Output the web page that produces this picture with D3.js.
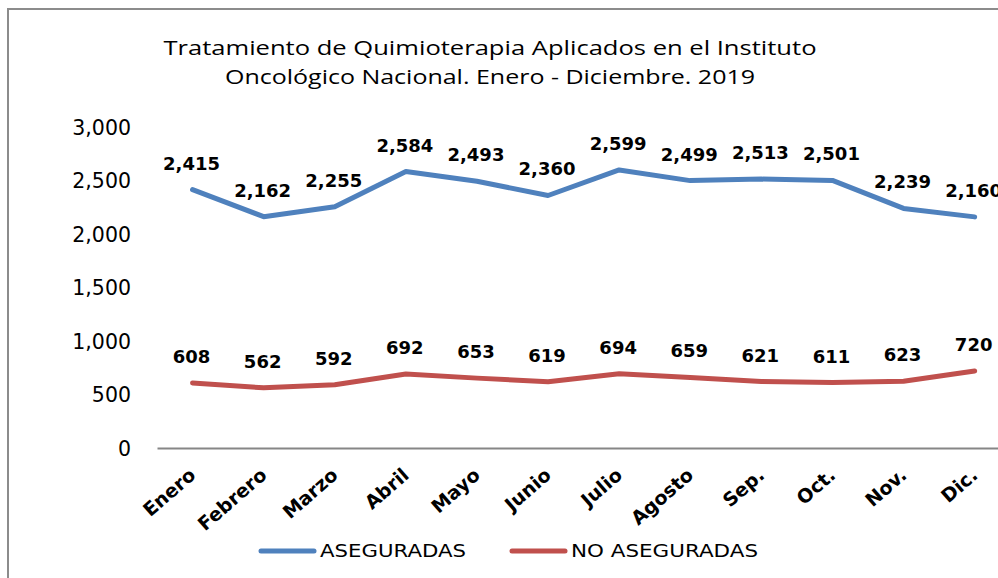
<!DOCTYPE html>
<html>
<head>
<meta charset="utf-8">
<script src="https://cdn.jsdelivr.net/npm/d3@7"></script>
<style>
  body { margin: 0; background: #fff; }
</style>
</head>
<body>
<div id="chart"></div>
<script>
// Chart data
var meses = ["Enero", "Febrero", "Marzo", "Abril", "Mayo", "Junio",
             "Julio", "Agosto", "Sep.", "Oct.", "Nov.", "Dic."];
var aseguradas = [2415, 2162, 2255, 2584, 2493, 2360, 2599, 2499, 2513, 2501, 2239, 2160];
var noAseguradas = [608, 562, 592, 692, 653, 619, 694, 659, 621, 611, 623, 720];
var yTicks = [0, 500, 1000, 1500, 2000, 2500, 3000];
var tituloLineas = ["Tratamiento de Quimioterapia Aplicados en el Instituto",
                    "Oncológico Nacional. Enero - Diciembre. 2019"];

var width = 998;
var height = 578;

var svg = d3.select("#chart")
            .append("svg")
            .attr("width", width)
            .attr("height", height);

// Outer chart border (runs past the right and bottom edges)
svg.append("rect")
   .attr("x", 8)
   .attr("y", 9)
   .attr("width", 1100)
   .attr("height", 700)
   .attr("fill", "none")
   .attr("stroke", "#8c8c8c")
   .attr("stroke-width", 2);

// Scales
var x = d3.scaleBand()
          .domain(meses)
          .range([157, 157 + 12 * 71.1])
          .padding(0);

var y = d3.scaleLinear()
          .domain([0, 3000])
          .range([448, 127]);

function cx(d, i){ return x(meses[i]) + x.bandwidth() / 2; }

// Title (the original picture is stretched sideways, so stretch the text too)
var tituloAncho = [653, 530];
svg.selectAll("text.titulo")
   .data(tituloLineas)
   .enter()
   .append("text")
   .attr("class", "titulo")
   .attr("x", 490)
   .attr("y", function(d, i){ return 55 + i * 29; })
   .attr("text-anchor", "middle")
   .attr("textLength", function(d, i){ return tituloAncho[i]; })
   .attr("lengthAdjust", "spacingAndGlyphs")
   .style("font-family", "Open Sans")
   .style("font-size", "20.5px")
   .text(function(d){ return d; });

// Y axis labels (no axis line, no gridlines)
var yAxis = d3.axisLeft(y)
              .tickValues(yTicks)
              .tickSize(0)
              .tickPadding(0)
              .tickFormat(d3.format(","));

var gy = svg.append("g")
            .attr("transform", "translate(131,0)")
            .call(yAxis);
gy.select(".domain").remove();
gy.selectAll("text")
  .attr("dy", "0.36em")
  .style("font-family", "DejaVu Sans")
  .style("font-size", "20.5px")
  .attr("fill", "#000");

// X axis
var xAxis = d3.axisBottom(x).tickSize(0).tickPadding(0);
var gx = svg.append("g")
            .attr("transform", "translate(0," + y(0) + ")")
            .call(xAxis);
gx.select(".domain")
  .attr("stroke", "#868686")
  .attr("stroke-width", 2);
gx.selectAll("text")
  .style("font-family", "DejaVu Sans")
  .style("font-size", "19px")
  .style("font-weight", "bold")
  .attr("fill", "#000")
  .attr("text-anchor", "end")
  .attr("dy", "0.35em")
  .attr("transform", "translate(0,24) rotate(-41)");

// Lines
var series = [
  {nombre: "ASEGURADAS", valores: aseguradas, color: "#4F81BD"},
  {nombre: "NO ASEGURADAS", valores: noAseguradas, color: "#C0504D"}
];

var line = d3.line()
             .x(function(d, i){ return cx(d, i); })
             .y(function(d){ return y(d); });

series.forEach(function(s){
  svg.append("path")
     .datum(s.valores)
     .attr("d", line)
     .attr("fill", "none")
     .attr("stroke", s.color)
     .attr("stroke-width", 5)
     .attr("stroke-linejoin", "round")
     .attr("stroke-linecap", "round");

  // Data labels
  svg.selectAll(null)
     .data(s.valores)
     .enter()
     .append("text")
     .attr("x", function(d, i){ return cx(d, i) - 1; })
     .attr("y", function(d){ return y(d) - 20; })
     .attr("text-anchor", "middle")
     .style("font-family", "DejaVu Sans")
     .style("font-size", "18px")
     .style("font-weight", "bold")
     .text(function(d){ return d3.format(",")(d); });
});

// Legend
var legendPos = [261, 512];
var legendAncho = [146, 187];
series.forEach(function(s, i){
  var g = svg.append("g")
             .attr("transform", "translate(" + legendPos[i] + ",551)");
  g.append("line")
   .attr("x1", 0).attr("x2", 53)
   .attr("y1", 0).attr("y2", 0)
   .attr("stroke", s.color)
   .attr("stroke-width", 5)
   .attr("stroke-linecap", "round");
  g.append("text")
   .attr("x", 59)
   .attr("y", 0)
   .attr("dy", "0.36em")
   .attr("textLength", legendAncho[i])
   .attr("lengthAdjust", "spacingAndGlyphs")
   .style("font-family", "DejaVu Sans")
   .style("font-size", "18px")
   .text(s.nombre);
});
</script>
</body>
</html>
